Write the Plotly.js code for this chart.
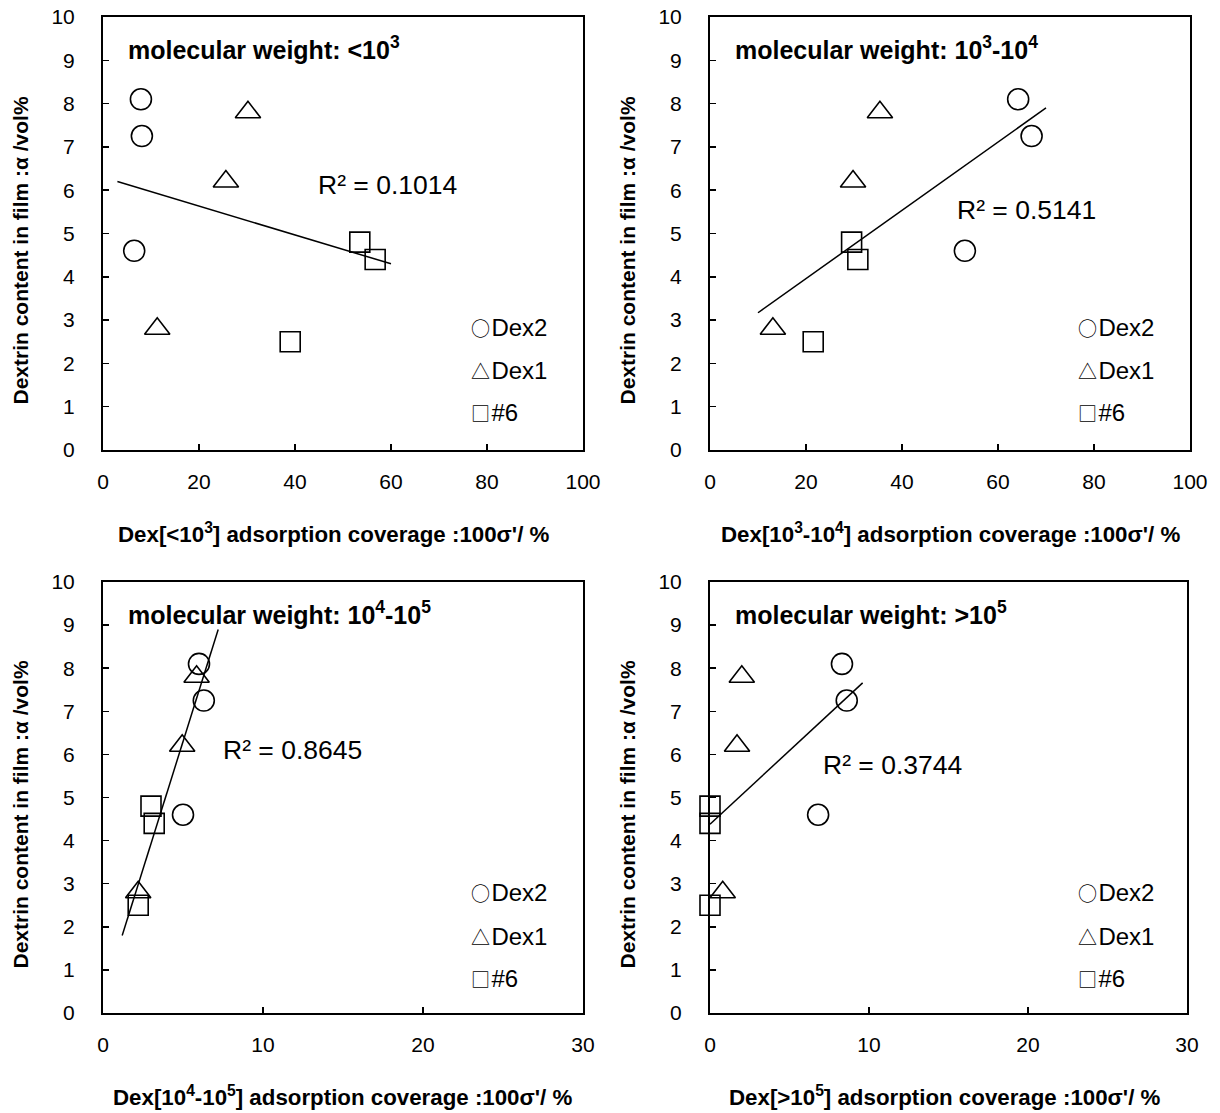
<!DOCTYPE html>
<html>
<head>
<meta charset="utf-8">
<script src="https://cdn.plot.ly/plotly-3.0.1.min.js"></script>
<style>html,body{margin:0;padding:0;background:#fff;}#chart{width:1220px;height:1113px;}</style>
</head>
<body>
<div id="chart"></div>
<script>
// ---------- DATA ----------
const seriesNames = ['Dex2', 'Dex1', '#6'];
const legendGlyphs = ['○', '△', '□'];

// Dextrin content in film (alpha, vol%) - same for each panel
const yDex2 = [8.1, 7.25, 4.6];
const yDex1 = [7.8, 6.2, 2.8];
const y6    = [4.8, 4.4, 2.5];

// adsorption coverage (100 sigma', %) per molecular-weight fraction
const xP1Dex2 = [7.9, 8.1, 6.5];
const xP1Dex1 = [30.2, 25.6, 11.3];
const xP1_6   = [53.5, 56.7, 39.0];

const xP2Dex2 = [64.2, 67.0, 53.1];
const xP2Dex1 = [35.4, 29.8, 13.1];
const xP2_6   = [29.5, 30.8, 21.5];

const xP3Dex2 = [6.0, 6.3, 5.0];
const xP3Dex1 = [5.85, 4.95, 2.2];
const xP3_6   = [3.0, 3.2, 2.2];

const xP4Dex2 = [8.3, 8.6, 6.8];
const xP4Dex1 = [2.0, 1.7, 0.8];
const xP4_6   = [0, 0, 0];

// linear trend lines (end points)
const trendX1 = [3.0, 60.0],  trendY1 = [6.2, 4.3];
const trendX2 = [10.0, 70.0], trendY2 = [3.17, 7.9];
const trendX3 = [1.2, 7.2],   trendY3 = [1.8, 8.9];
const trendX4 = [0.0, 9.6],   trendY4 = [4.38, 7.66];

const r2Labels = ['R² = 0.1014', 'R² = 0.5141', 'R² = 0.8645', 'R² = 0.3744'];
const panelTitles = [
  'molecular weight: &lt;10<sup>3</sup>',
  'molecular weight: 10<sup>3</sup>-10<sup>4</sup>',
  'molecular weight: 10<sup>4</sup>-10<sup>5</sup>',
  'molecular weight: &gt;10<sup>5</sup>'
];
const xTitles = [
  "Dex[&lt;10<sup>3</sup>] adsorption coverage :100σ'/ %",
  "Dex[10<sup>3</sup>-10<sup>4</sup>] adsorption coverage :100σ'/ %",
  "Dex[10<sup>4</sup>-10<sup>5</sup>] adsorption coverage :100σ'/ %",
  "Dex[&gt;10<sup>5</sup>] adsorption coverage :100σ'/ %"
];
const yTitle = 'Dextrin content in film :α /vol%';
const xRanges = [[0, 100], [0, 100], [0, 30], [0, 30]];
const xDticks = [20, 20, 10, 10];
const yRange = [0, 10];

// ---------- LAYOUT HELPERS ----------
const W = 1220, H = 1113;
const FONT = '"Liberation Sans", Arial, sans-serif';
const fx = p => p / W;
const fy = p => 1 - p / H;

// plot-area boxes in pixels [left, right], [top, bottom]
const boxes = [
  {x: [103, 583], y: [17, 450]},
  {x: [710, 1190], y: [17, 450]},
  {x: [103, 583], y: [582, 1013]},
  {x: [710, 1187], y: [582, 1013]}
];
const xTitleShift = [-9, 0, -1, -4];
// R2 label positions (axis units)
const r2Pos = [[44.4, 6.12], [51.0, 5.55], [7.4, 6.1], [7.0, 5.75]];

const xsets = [
  [xP1Dex2, xP1Dex1, xP1_6],
  [xP2Dex2, xP2Dex1, xP2_6],
  [xP3Dex2, xP3Dex1, xP3_6],
  [xP4Dex2, xP4Dex1, xP4_6]
];
const ysets = [yDex2, yDex1, y6];
const trends = [[trendX1, trendY1], [trendX2, trendY2], [trendX3, trendY3], [trendX4, trendY4]];
const symbols = ['circle-open', 'triangle-up-open', 'square-open'];
const sizes = [21, 22, 20];

const data = [];
const layout = {
  width: W, height: H,
  margin: {l: 0, r: 0, t: 0, b: 0},
  paper_bgcolor: '#fff', plot_bgcolor: '#fff',
  showlegend: false,
  font: {family: FONT, color: '#000'},
  annotations: []
};

boxes.forEach((b, i) => {
  const n = i + 1;
  const xa = n === 1 ? 'x' : 'x' + n;
  const ya = n === 1 ? 'y' : 'y' + n;
  const xKey = n === 1 ? 'xaxis' : 'xaxis' + n;
  const yKey = n === 1 ? 'yaxis' : 'yaxis' + n;

  // trend line
  data.push({
    type: 'scatter', mode: 'lines', x: trends[i][0], y: trends[i][1],
    xaxis: xa, yaxis: ya, line: {color: '#000', width: 1.5}, hoverinfo: 'skip'
  });
  // series
  seriesNames.forEach((s, k) => {
    data.push({
      type: 'scatter', mode: 'markers', name: s,
      x: xsets[i][k], y: ysets[k], xaxis: xa, yaxis: ya, cliponaxis: false,
      marker: {symbol: symbols[k], size: sizes[k], color: '#000', line: {color: '#000', width: 1.6}}
    });
  });

  layout[xKey] = {
    domain: [fx(b.x[0]), fx(b.x[1])], anchor: ya, range: xRanges[i], dtick: xDticks[i], tick0: 0,
    showgrid: false, zeroline: false, showline: true, mirror: true, linecolor: '#000', linewidth: 2,
    ticks: 'inside', ticklen: 6, tickwidth: 1.5, tickcolor: '#000',
    tickfont: {family: FONT, size: 21, color: '#000'}, ticklabelstandoff: 12, fixedrange: true
  };
  layout[yKey] = {
    domain: [fy(b.y[1]), fy(b.y[0])], anchor: xa, range: yRange, dtick: 1, tick0: 0,
    showgrid: false, zeroline: false, showline: true, mirror: true, linecolor: '#000', linewidth: 2,
    ticks: 'inside', ticklen: 6, tickwidth: 1.5, tickcolor: '#000',
    tickfont: {family: FONT, size: 21, color: '#000'}, ticklabelstandoff: 22, fixedrange: true
  };

  // panel title
  layout.annotations.push({
    xref: 'paper', yref: 'paper', x: fx(b.x[0] + 23), y: fy(b.y[0] + 31),
    xanchor: 'left', yanchor: 'middle', showarrow: false,
    text: '<b>' + panelTitles[i] + '</b>', font: {family: FONT, size: 25, color: '#000'}
  });
  // x axis title
  layout.annotations.push({
    xref: 'paper', yref: 'paper', x: fx((b.x[0] + b.x[1]) / 2 + xTitleShift[i]), y: fy(b.y[1] + 83),
    xanchor: 'center', yanchor: 'middle', showarrow: false,
    text: '<b>' + xTitles[i] + '</b>', font: {family: FONT, size: 22.3, color: '#000'}
  });
  // y axis title
  layout.annotations.push({
    xref: 'paper', yref: 'paper', x: fx(b.x[0] - 83), y: fy((b.y[0] + b.y[1]) / 2 + 17),
    xanchor: 'center', yanchor: 'middle', showarrow: false, textangle: -90,
    text: '<b>' + yTitle + '</b>', font: {family: FONT, size: 21, color: '#000'}
  });
  // R2 label
  layout.annotations.push({
    xref: xa, yref: ya, x: r2Pos[i][0], y: r2Pos[i][1],
    xanchor: 'left', yanchor: 'middle', showarrow: false,
    text: r2Labels[i], font: {family: FONT, size: 26.5, color: '#000'}
  });
  // legend (text boxes)
  const legY = [310, 354, 396];
  seriesNames.forEach((s, k) => {
    layout.annotations.push({
      xref: 'paper', yref: 'paper', x: fx(b.x[0] + 366), y: fy(b.y[0] + legY[k]),
      xanchor: 'left', yanchor: 'middle', showarrow: false,
      text: '<span style="font-family:Noto Sans CJK JP;font-size:19px">' + legendGlyphs[k] + '</span><span style="font-size:5px"> </span>' + s,
      font: {family: FONT, size: 24, color: '#000'}
    });
  });
});

Plotly.newPlot('chart', data, layout, {staticPlot: true});
</script>
</body>
</html>
